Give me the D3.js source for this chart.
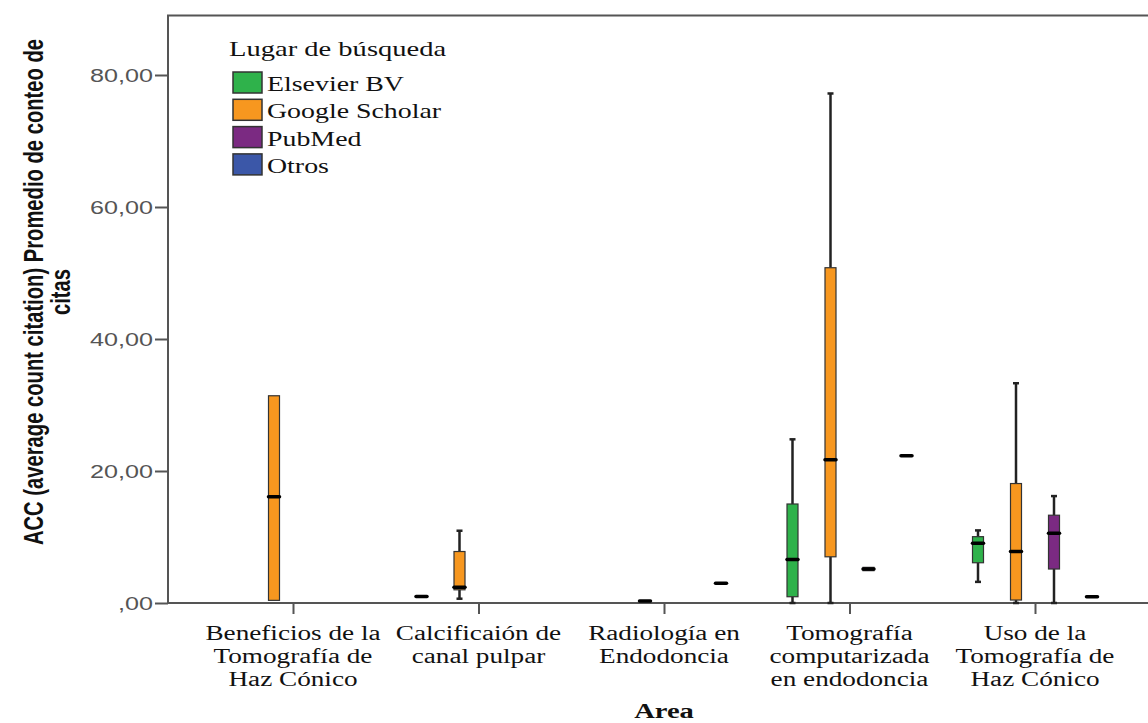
<!DOCTYPE html>
<html>
<head>
<meta charset="utf-8">
<script src="https://cdn.jsdelivr.net/npm/d3@7"></script>
<style>
  html, body { margin: 0; padding: 0; background: #fff; }
  svg { display: block; }
</style>
</head>
<body>
<svg id="chart" width="1148" height="723"></svg>
<script>
// ---- data ----
const categories = [
  "Beneficios de la Tomografía de Haz Cónico",
  "Calcificaión de canal pulpar",
  "Radiología en Endodoncia",
  "Tomografía computarizada en endodoncia",
  "Uso de la Tomografía de Haz Cónico"
];
const categoryLines = [
  ["Beneficios de la", "Tomografía de", "Haz Cónico"],
  ["Calcificaión de", "canal pulpar"],
  ["Radiología en", "Endodoncia"],
  ["Tomografía", "computarizada", "en endodoncia"],
  ["Uso de la", "Tomografía de", "Haz Cónico"]
];
const seriesNames = ["Elsevier BV", "Google Scholar", "PubMed", "Otros"];
const seriesColors = ["#2fb24b", "#f7971f", "#7b2a82", "#3b57a8"];
// [min, q1, median, q3, max] per category (null = no data)
const elsevier = [null, [1.0, 1.0, 1.0, 1.0, 1.0], null, [0, 0.95, 6.6, 15.0, 24.8], [3.2, 6.1, 9.05, 10.05, 11.0]];
const google   = [[0.4, 0.4, 16.1, 31.4, 31.4], [0.65, 2.0, 2.4, 7.8, 10.95], [0.3, 0.3, 0.3, 0.3, 0.3], [0, 7.0, 21.7, 50.8, 77.2], [0, 0.45, 7.8, 18.1, 33.3]];
const pubmed   = [null, null, null, [4.9, 4.9, 5.15, 5.4, 5.4], [0, 5.15, 10.55, 13.3, 16.2]];
const otros    = [null, null, [3.0, 3.0, 3.0, 3.0, 3.0], [22.3, 22.3, 22.3, 22.3, 22.3], [0.95, 0.95, 0.95, 0.95, 0.95]];
const seriesValues = [elsevier, google, pubmed, otros];
const yTicks = [0, 20, 40, 60, 80];
const yTickLabels = [",00", "20,00", "40,00", "60,00", "80,00"];
const yTitleLines = ["ACC (average count citation) Promedio de conteo de", "citas"];
const xTitle = "Area";
const legendTitle = "Lugar de búsqueda";

// ---- layout ----
const SX = 1.36; // horizontal stretch of the original rendering
const svg = d3.select("#chart");
const pLeft = 168, pRight = 1148, pBottom = 603;
const y = d3.scaleLinear().domain([0, 80]).range([603, 75]);
const pTop = y(89);
const x = d3.scalePoint().domain(categories).range([293, 1035]);
const off = d3.scalePoint().domain(seriesNames).range([-57, 57]);
const boxW = 11;

const serif = "'Liberation Serif', 'Times New Roman', serif";
const sans = "'Liberation Sans', Arial, sans-serif";
const narrow = "'Liberation Sans Narrow', 'Arial Narrow', 'Liberation Sans', sans-serif";

// frame
const frame = svg.append("g").attr("stroke", "#555").attr("stroke-width", 2).attr("fill", "none");
frame.append("path").attr("d", `M${pRight},${pTop}H${pLeft}V${pBottom}H${pRight}`);

// y axis ticks
const yAxis = svg.append("g").attr("transform", `translate(${pLeft},0)`)
  .call(d3.axisLeft(y).tickValues(yTicks).tickSize(13).tickFormat((d, i) => yTickLabels[i]));
yAxis.select(".domain").remove();
yAxis.selectAll(".tick line").attr("stroke", "#555").attr("stroke-width", 2);
yAxis.selectAll(".tick text")
  .attr("font-family", sans).attr("font-size", 18.5).attr("fill", "#555")
  .attr("x", 0).attr("dy", "0.36em")
  .attr("transform", "translate(-15,0) scale(" + SX + ",1)");

// x axis ticks
const xAxis = svg.append("g").attr("transform", `translate(0,${pBottom})`)
  .call(d3.axisBottom(x).tickSize(11).tickFormat(""));
xAxis.select(".domain").remove();
xAxis.selectAll(".tick line").attr("stroke", "#555").attr("stroke-width", 2);

// x labels
categories.forEach((c, i) => {
  const g = svg.append("g").attr("transform", `translate(${x(c)},0) scale(${SX},1)`);
  categoryLines[i].forEach((line, j) => {
    g.append("text").attr("x", 0).attr("y", 640 + j * 23)
      .attr("text-anchor", "middle").attr("font-family", serif).attr("font-size", 20)
      .attr("fill", "#111").text(line);
  });
});

// x title
svg.append("text")
  .attr("transform", `translate(${x(categories[2])},718) scale(${SX},1)`)
  .attr("text-anchor", "middle").attr("font-family", serif).attr("font-weight", "bold")
  .attr("font-size", 21).attr("fill", "#111").text(xTitle);

// y title
const yTitleX = [43, 70];
yTitleLines.forEach((line, j) => {
  svg.append("text")
    .attr("transform", `translate(${yTitleX[j]},292) scale(${SX},1) rotate(-90)`)
    .attr("text-anchor", "middle").attr("font-family", narrow).attr("font-weight", "bold")
    .attr("font-size", 20.2).attr("fill", "#111").text(line);
});

// boxes
const plot = svg.append("g");
seriesValues.forEach((vals, si) => {
  const col = seriesColors[si];
  vals.forEach((v, ci) => {
    if (!v) return;
    const [mn, q1, md, q3, mx] = v;
    const cx = x(categories[ci]) + off(seriesNames[si]);
    const g = plot.append("g");
    if (mx > q3) {
      g.append("line").attr("x1", cx).attr("x2", cx).attr("y1", y(q3)).attr("y2", y(mx))
        .attr("stroke", "#222").attr("stroke-width", 2.5);
      g.append("line").attr("x1", cx - 3).attr("x2", cx + 3).attr("y1", y(mx)).attr("y2", y(mx))
        .attr("stroke", "#222").attr("stroke-width", 2.5);
    }
    if (mn < q1) {
      g.append("line").attr("x1", cx).attr("x2", cx).attr("y1", y(q1)).attr("y2", y(mn))
        .attr("stroke", "#222").attr("stroke-width", 2.5);
      g.append("line").attr("x1", cx - 3).attr("x2", cx + 3).attr("y1", y(mn)).attr("y2", y(mn))
        .attr("stroke", "#222").attr("stroke-width", 2.5);
    }
    if (q3 > q1) {
      g.append("rect").attr("x", cx - boxW / 2).attr("y", y(q3))
        .attr("width", boxW).attr("height", y(q1) - y(q3))
        .attr("fill", col).attr("stroke", "#333").attr("stroke-width", 1.2);
    }
    g.append("line").attr("x1", cx - boxW / 2).attr("x2", cx + boxW / 2)
      .attr("y1", y(md)).attr("y2", y(md))
      .attr("stroke", "#000").attr("stroke-width", 3.5).attr("stroke-linecap", "round");
  });
});

// legend
const lg = svg.append("g");
lg.append("text").attr("transform", `translate(229,56) scale(${SX},1)`)
  .attr("font-family", serif).attr("font-size", 21).attr("fill", "#111").text(legendTitle);
seriesNames.forEach((s, i) => {
  const yy = 72 + i * 27.3;
  lg.append("rect").attr("x", 233).attr("y", yy).attr("width", 29).attr("height", 21)
    .attr("fill", seriesColors[i]).attr("stroke", "#333").attr("stroke-width", 1.5);
  lg.append("text").attr("transform", `translate(267,${yy + 19}) scale(${SX},1)`)
    .attr("font-family", serif).attr("font-size", 20.5).attr("fill", "#111").text(s);
});
</script>
</body>
</html>
